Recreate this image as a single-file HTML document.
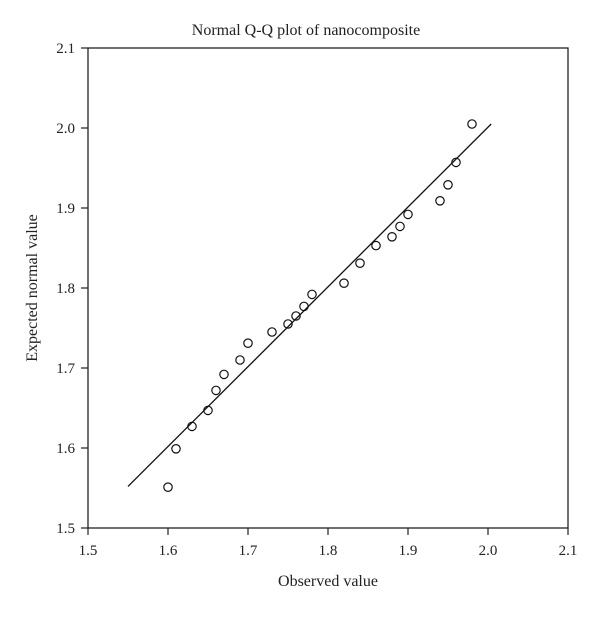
<!DOCTYPE html>
<html><head><meta charset="utf-8"><style>
body{margin:0;background:#fff;}
svg text{font-family:"Liberation Serif",serif;fill:#222;}
</style></head><body>
<svg width="600" height="614" viewBox="0 0 600 614">
<text x="306" y="35" font-size="16" text-anchor="middle">Normal Q-Q plot of nanocomposite</text>
<rect x="88" y="48" width="480" height="480" fill="none" stroke="#222" stroke-width="1.3"/>
<g id="xt"></g><g id="yt"></g><g id="marks"></g>
<text x="328" y="586" font-size="16" text-anchor="middle">Observed value</text>
<text transform="translate(37,288) rotate(-90)" font-size="16" text-anchor="middle">Expected normal value</text>
</svg>
<script>
const xTicks=["1.5","1.6","1.7","1.8","1.9","2.0","2.1"];
const yTicks=["1.5","1.6","1.7","1.8","1.9","2.0","2.1"];
const obs=[1.60,1.61,1.63,1.65,1.66,1.67,1.69,1.70,1.73,1.75,1.76,1.77,1.78,1.82,1.84,1.86,1.88,1.89,1.90,1.94,1.95,1.96,1.98];
const expd=[1.551,1.599,1.627,1.647,1.672,1.692,1.710,1.731,1.745,1.755,1.765,1.777,1.792,1.806,1.831,1.853,1.864,1.877,1.892,1.909,1.929,1.957,2.005];
const lineX=[1.55,2.004];
const lineY=[1.552,2.005];
const NS="http://www.w3.org/2000/svg";
const sx=v=>88+(v-1.5)*800, sy=v=>528-(v-1.5)*800;
function mk(t,a,p){const e=document.createElementNS(NS,t);for(const k in a)e.setAttribute(k,a[k]);p.appendChild(e);return e;}
const xt=document.getElementById('xt'),yt=document.getElementById('yt'),m=document.getElementById('marks');
xTicks.forEach(t=>{const x=sx(+t);
const l=mk('line',{x1:x,x2:x,y1:528,y2:535,stroke:'#222','stroke-width':1.2},xt);

const tx=mk('text',{x:x,y:555,'font-size':15,'text-anchor':'middle'},xt);tx.textContent=t;
});
yTicks.forEach(t=>{const y=sy(+t);
const l=mk('line',{x1:81,x2:88,y1:y,y2:y,stroke:'#222','stroke-width':1.2},yt);

const tx=mk('text',{x:75,y:y+5,'font-size':15,'text-anchor':'end'},yt);tx.textContent=t;
});
const ln=mk('line',{x1:sx(lineX[0]),y1:sy(lineY[0]),x2:sx(lineX[1]),y2:sy(lineY[1]),stroke:'#111','stroke-width':1.3},m);

obs.forEach((v,i)=>{const c=mk('circle',{cx:sx(v),cy:sy(expd[i]),r:4.2,fill:'none',stroke:'#111','stroke-width':1.2},m);
});
</script>
</body></html>
